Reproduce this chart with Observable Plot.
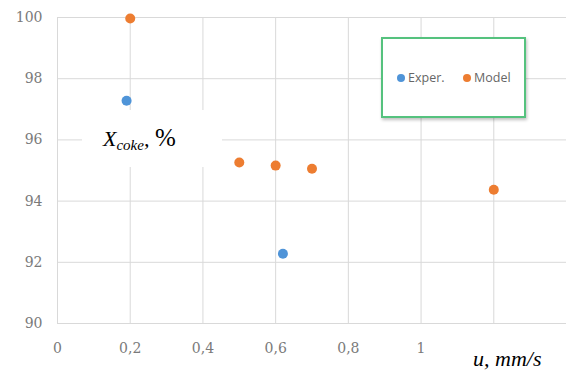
<!DOCTYPE html>
<html>
<head>
<meta charset="utf-8">
<script src="https://cdn.jsdelivr.net/npm/d3@7"></script>
<script src="https://cdn.jsdelivr.net/npm/@observablehq/plot@0.6"></script>
<style>
  html, body { margin: 0; padding: 0; background: #fff; }
  #wrap { position: relative; width: 566px; height: 374px; overflow: hidden; background: #fff; }
  #wrap svg { position: absolute; left: 0; top: 0; }
  .ylab { position: absolute; left: 82px; top: 110px; width: 140px; height: 57px; background: #fff;
          font-family: "Liberation Serif", "Times New Roman", serif; color: #000; }
  .ylab .t { position: absolute; left: 21px; top: 17px; white-space: nowrap; font-size: 22px; line-height: 22px; }
  .xlab { position: absolute; left: 462px; top: 336px; width: 104px; height: 38px; background: #fff;
          font-family: "Liberation Serif", "Times New Roman", serif; color: #000; }
  .xlab .t { position: absolute; left: 11px; top: 12px; white-space: nowrap; font-size: 22px; font-style: italic; line-height: 22px; }
  .legend { position: absolute; left: 381px; top: 37px; width: 141px; height: 77px; background: #fff;
            border: 2px solid #55c27e; box-shadow: 1px 2px 3px rgba(0,0,0,0.25);
            font-family: "Open Sans", "Liberation Sans", sans-serif; font-size: 12.5px; color: #666; }
  .legend .it { position: absolute; top: 31px; white-space: nowrap; line-height: 16px; }
  .legend .dot { display: inline-block; width: 8px; height: 8px; border-radius: 50%; margin-right: 3px; vertical-align: 0px; }
</style>
</head>
<body>
<div id="wrap"></div>
<script>
// Data
const seriesNames = ["Exper.", "Model"];
const seriesColors = ["#4f94d8", "#ed7d31"];
const experU = [0.19, 0.62];
const experX = [97.28, 92.28];
const modelU = [0.2, 0.5, 0.6, 0.7, 1.2];
const modelX = [99.97, 95.26, 95.16, 95.06, 94.37];
const xGridTicks = [0, 0.2, 0.4, 0.6, 0.8, 1.0, 1.2, 1.4];
const xLabelTicks = [0, 0.2, 0.4, 0.6, 0.8, 1];
const yTicks = [90, 92, 94, 96, 98, 100];
const yTitle = "X";
const yTitleSub = "coke";
const xTitle = "u, mm/s";

const exper = experU.map((u, i) => ({u, x: experX[i], s: seriesNames[0]}));
const model = modelU.map((u, i) => ({u, x: modelX[i], s: seriesNames[1]}));
const fmt = d => String(d).replace(".", ",");

const chart = Plot.plot({
  width: 566,
  height: 374,
  marginLeft: 57,
  marginRight: 0,
  marginTop: 17,
  marginBottom: 51,
  style: { fontFamily: "'DejaVu Serif', serif", fontSize: "14px", color: "#7a7a7a", background: "transparent", overflow: "visible" },
  x: { domain: [0, 1.4] },
  y: { domain: [90, 100] },
  color: { domain: seriesNames, range: seriesColors },
  marks: [
    Plot.gridX(xGridTicks, { stroke: "#d9d9d9", strokeOpacity: 1, strokeWidth: 1 }),
    Plot.gridY(yTicks, { stroke: "#d9d9d9", strokeOpacity: 1, strokeWidth: 1 }),
    Plot.axisY(yTicks, { tickSize: 0, tickPadding: 15, label: null, tickFormat: d => String(d) }),
    Plot.axisX(xLabelTicks, { tickSize: 0, tickPadding: 20, label: null, tickFormat: fmt }),
    Plot.dot(exper, { x: "u", y: "x", fill: "s", r: 5 }),
    Plot.dot(model, { x: "u", y: "x", fill: "s", r: 5 })
  ]
});

const wrap = document.getElementById("wrap");
wrap.appendChild(chart);

const ylab = document.createElement("div");
ylab.className = "ylab";
ylab.innerHTML = `<span class="t"><i>${yTitle}</i><i style="font-size:15px;vertical-align:-4px">${yTitleSub}</i><i>,</i> <span style="font-size:25px">%</span></span>`;
wrap.appendChild(ylab);

const xlab = document.createElement("div");
xlab.className = "xlab";
xlab.innerHTML = `<span class="t">${xTitle}</span>`;
wrap.appendChild(xlab);

const legend = document.createElement("div");
legend.className = "legend";
legend.innerHTML =
  `<span class="it" style="left:14px"><span class="dot" style="background:${seriesColors[0]}"></span>${seriesNames[0]}</span>` +
  `<span class="it" style="left:80px"><span class="dot" style="background:${seriesColors[1]}"></span>${seriesNames[1]}</span>`;
wrap.appendChild(legend);
</script>
</body>
</html>
